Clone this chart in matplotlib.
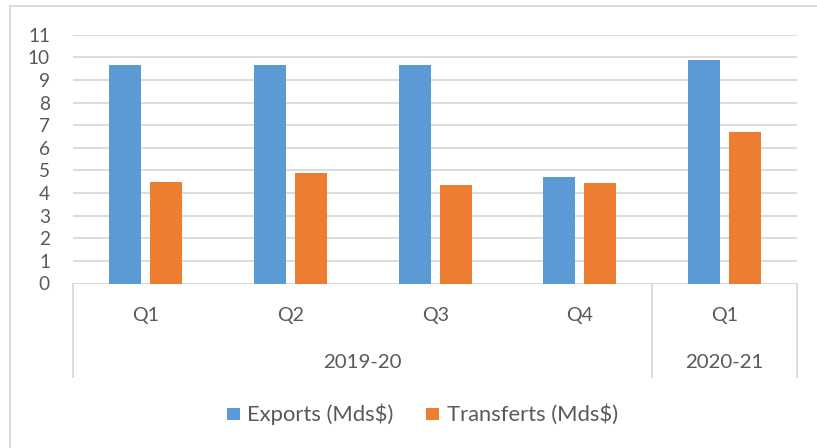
import matplotlib
matplotlib.use("Agg")
import matplotlib.pyplot as plt
from matplotlib.lines import Line2D
from matplotlib.patches import Rectangle

plt.rcParams['font.family'] = ['Lato', 'DejaVu Sans']

quarters = ["Q1", "Q2", "Q3", "Q4", "Q1"]
years = ["2019-20", "2020-21"]
year_spans = [(0, 3), (4, 4)]
exports = [9.65, 9.65, 9.66, 4.71, 9.88]
transferts = [4.50, 4.88, 4.37, 4.44, 6.70]
series_names = ["Exports (Mds$)", "Transferts (Mds$)"]
colors = ["#5B9BD5", "#ED7D31"]
yticks = list(range(0, 12))

W, H = 817, 448
fig = plt.figure(figsize=(W / 100, H / 100), dpi=100)
fig.patch.set_facecolor("white")
renderer = fig.canvas.get_renderer()


def fitted_size(s, target_px, base=12):
    t = fig.text(0, 0, s, fontsize=base)
    w = t.get_window_extent(renderer).width
    t.remove()
    return base * target_px / w


fs_y = fitted_size("10", 22)
fs_q = fitted_size("Q1", 27)
fs_yr = fitted_size("2020-21", 78)
fs_leg = fitted_size(series_names[0], 145)

left, right, top, bottom = 73.3, 797, 34.7, 283.5
ax = fig.add_axes([left / W, 1 - bottom / H, (right - left) / W, (bottom - top) / H])

txt = "#595959"
grid = "#D9D9D9"

x = list(range(len(quarters)))
off = 0.1415
bw = 0.221
ax.bar([i - off for i in x], exports, width=bw, color=colors[0], zorder=3)
ax.bar([i + off for i in x], transferts, width=bw, color=colors[1], zorder=3)

ax.set_xlim(-0.5, len(quarters) - 0.5)
ax.set_ylim(0, 11)
ax.set_yticks(yticks)
ax.set_yticklabels([str(v) for v in yticks], color=txt, fontsize=fs_y)
ax.tick_params(axis="y", length=0, pad=16.8)
ax.set_xticks([])
for s in ax.spines.values():
    s.set_visible(False)
ax.yaxis.grid(True, color=grid, linewidth=1.3, zorder=0)
ax.set_axisbelow(True)

# category axis
ax.axhline(0, color=grid, linewidth=1.3, zorder=2)
ph = bottom - top
depth = -(376.7 - bottom) / ph
trans = ax.get_xaxis_transform()
for xv in [-0.5, 3.5, 4.5]:
    ax.plot([xv, xv], [0, depth], color=grid, linewidth=1.3, transform=trans, clip_on=False)

yq = -(320.5 - bottom) / ph
yy = -(368 - bottom) / ph
for i, q in enumerate(quarters):
    ax.text(i, yq, q, transform=trans, ha="center", va="baseline", color=txt, fontsize=fs_q)
for (a, b), yname in zip(year_spans, years):
    ax.text((a + b) / 2, yy, yname, transform=trans, ha="center", va="baseline", color=txt, fontsize=fs_yr)

# legend (drawn manually)
sq_x = [227, 426]
tx_x = [247, 446.7]
for c, name, sx, tx in zip(colors, series_names, sq_x, tx_x):
    fig.add_artist(Rectangle((sx / W, 1 - 420 / H), 13 / W, 12 / H, facecolor=c,
                             edgecolor="none", transform=fig.transFigure))
    fig.text(tx / W, 1 - 420.7 / H, name, ha="left", va="baseline", color=txt, fontsize=fs_leg)

# chart border (left and top visible)
fig.add_artist(Line2D([10 / W, 10 / W], [0, 1 - 6 / H], color=grid, linewidth=1.3))
fig.add_artist(Line2D([10 / W, 1], [1 - 6 / H, 1 - 6 / H], color=grid, linewidth=1.3))

fig.savefig("out.png", dpi=100)
